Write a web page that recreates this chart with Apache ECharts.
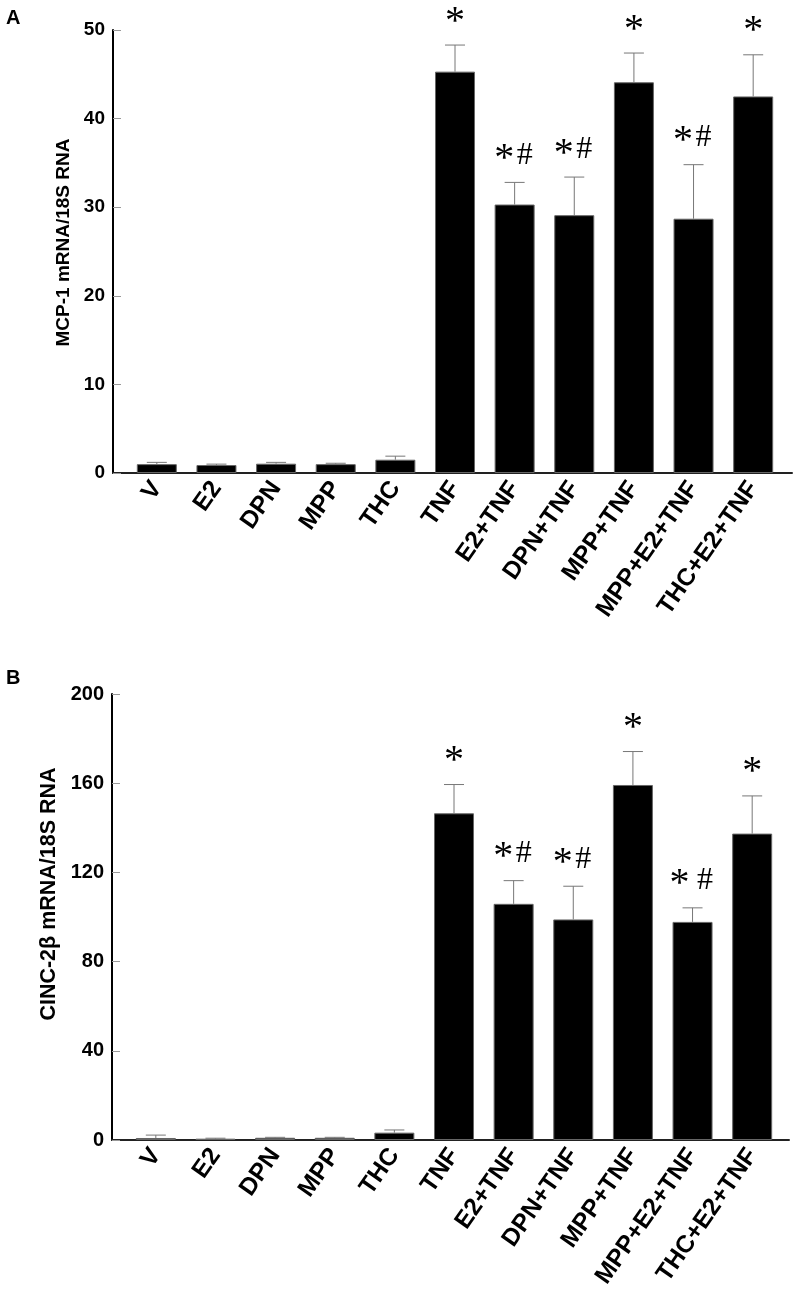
<!DOCTYPE html>
<html>
<head>
<meta charset="utf-8">
<script src="https://cdn.jsdelivr.net/npm/echarts@6/dist/echarts.min.js"></script>
<style>
html,body{margin:0;padding:0;background:#fff;}
#chart{width:797px;height:1299px;}
</style>
</head>
<body>
<div id="chart"></div>
<script>
// ---- data ----
const categories = ['V','E2','DPN','MPP','THC','TNF','E2+TNF','DPN+TNF','MPP+TNF','MPP+E2+TNF','THC+E2+TNF'];

const mcp1Mean  = [1.0, 0.9, 1.05, 1.0, 1.5, 45.3, 30.3, 29.1, 44.1, 28.7, 42.5];
const mcp1Err   = [0.2, 0.1, 0.15, 0.1, 0.4, 3.0, 2.5, 4.3, 3.3, 6.1, 4.7];
const mcp1Marks = ['', '', '', '', '', '*', '*#', '*#', '*', '*#', '*'];

const cincMean  = [0.9, 0.6, 1.0, 1.0, 3.3, 146.5, 105.9, 98.9, 159.2, 97.8, 137.4];
const cincErr   = [1.3, 0.2, 0.2, 0.2, 1.2, 12.9, 10.4, 14.9, 15.0, 6.3, 16.9];
const cincMarks = ['', '', '', '', '', '*', '*#', '*#', '*', '* #', '*'];

const mcp1Ticks = {min: 0, max: 50, interval: 10};
const cincTicks = {min: 0, max: 200, interval: 40};

const panelLetters = ['A', 'B'];
const yNames = ['MCP-1 mRNA/18S RNA', 'CINC-2\u03b2 mRNA/18S RNA'];

// ---- chart ----
const chart = echarts.init(document.getElementById('chart'), null, {renderer: 'canvas'});
const FONT = 'Liberation Sans, Arial, Helvetica, sans-serif';
const SERIF = '"Liberation Serif", "Times New Roman", serif';

// glyph styling for significance marks
const GLYPH = {
  '*': {w: 20, font: 'normal 40px ' + SERIF, dy: 4},
  '#': {w: 21, font: 'normal 32px ' + SERIF, dy: 0},
  ' ': {w: 5}
};
const MARK_GAP = 27;

function errRender(means, errs, marks) {
  return function (params, api) {
    const i = api.value(0);
    const base = api.coord([i, means[i]]);
    const top = api.coord([i, means[i] + errs[i]]);
    const children = [
      {type: 'line', shape: {x1: base[0], y1: base[1], x2: top[0], y2: top[1]},
       style: {stroke: '#777', lineWidth: 1}},
      {type: 'line', shape: {x1: top[0] - 10, y1: top[1], x2: top[0] + 10, y2: top[1]},
       style: {stroke: '#777', lineWidth: 1}}
    ];
    const chars = marks[i].split('');
    if (chars.length) {
      const total = chars.reduce(function (s, c) { return s + GLYPH[c].w; }, 0);
      let x = top[0] - total / 2;
      const cy = top[1] - MARK_GAP;
      chars.forEach(function (c) {
        const g = GLYPH[c];
        if (g.font) {
          children.push({type: 'text', x: x + g.w / 2, y: cy + g.dy,
            style: {text: c, fill: '#000', font: g.font, align: 'center', verticalAlign: 'middle'}});
        }
        x += g.w;
      });
    }
    return {type: 'group', children: children};
  };
}

const panels = [
  {top: 30, height: 443, axisLeft: 113, axisRight: 792, barLeft: 127, barRight: 783,
   ticks: mcp1Ticks, mean: mcp1Mean, err: mcp1Err, marks: mcp1Marks,
   tickFont: 19, nameFont: 19, nameGap: 35, namePad: [0, 0, 0, 18], letterTop: 8},
  {top: 694, height: 446, axisLeft: 112, axisRight: 789, barLeft: 126, barRight: 782,
   ticks: cincTicks, mean: cincMean, err: cincErr, marks: cincMarks,
   tickFont: 20, nameFont: 21.5, nameGap: 47, namePad: [0, 0, 0, 46], letterTop: 668}
];

const grid = [], xAxis = [], yAxis = [], series = [], graphic = [];
panels.forEach(function (p, k) {
  const gAxis = grid.length;
  grid.push({left: p.axisLeft, width: p.axisRight - p.axisLeft, top: p.top, height: p.height});
  const gBar = grid.length;
  grid.push({left: p.barLeft, width: p.barRight - p.barLeft, top: p.top, height: p.height});

  // axis frame grid
  xAxis.push({gridIndex: gAxis, type: 'value', min: 0, max: 1,
    axisLine: {show: true, onZero: false, lineStyle: {color: '#222', width: 2}},
    axisTick: {show: false}, axisLabel: {show: false}, splitLine: {show: false}});
  yAxis.push({gridIndex: gAxis, type: 'value', min: p.ticks.min, max: p.ticks.max, interval: p.ticks.interval,
    name: yNames[k], nameLocation: 'middle', nameGap: p.nameGap, nameRotate: 90,
    nameTextStyle: {fontFamily: FONT, fontWeight: 'bold', fontSize: p.nameFont, color: '#000', padding: p.namePad},
    axisLine: {show: true, lineStyle: {color: '#000', width: 2}},
    axisTick: {show: true, inside: true, length: 8, lineStyle: {color: '#999', width: 1}},
    axisLabel: {fontFamily: FONT, fontWeight: 'bold', fontSize: p.tickFont, color: '#000', margin: 8},
    splitLine: {show: false}});

  // bars grid
  const xb = xAxis.length;
  xAxis.push({gridIndex: gBar, type: 'category', data: categories,
    axisLine: {show: false}, axisTick: {show: false},
    axisLabel: {interval: 0, rotate: 55, margin: 11, fontFamily: FONT, fontWeight: 'bold', fontSize: 24.5, color: '#000'}});
  const yb = yAxis.length;
  yAxis.push({gridIndex: gBar, type: 'value', min: p.ticks.min, max: p.ticks.max, show: false});

  series.push({type: 'bar', xAxisIndex: xb, yAxisIndex: yb, data: p.mean, barWidth: 40,
    itemStyle: {color: '#000', borderColor: '#666', borderWidth: 1}, silent: true, animation: false});
  series.push({type: 'custom', xAxisIndex: xb, yAxisIndex: yb, clip: false, animation: false, silent: true,
    data: p.mean.map(function (v, i) { return [i, v]; }),
    renderItem: errRender(p.mean, p.err, p.marks), z: 5});

  graphic.push({type: 'text', left: 6, top: p.letterTop,
    style: {text: panelLetters[k], font: 'bold 20px ' + FONT, fill: '#000'}});
});

chart.setOption({
  animation: false,
  backgroundColor: '#fff',
  grid: grid, xAxis: xAxis, yAxis: yAxis, series: series, graphic: graphic
});
</script>
</body>
</html>
